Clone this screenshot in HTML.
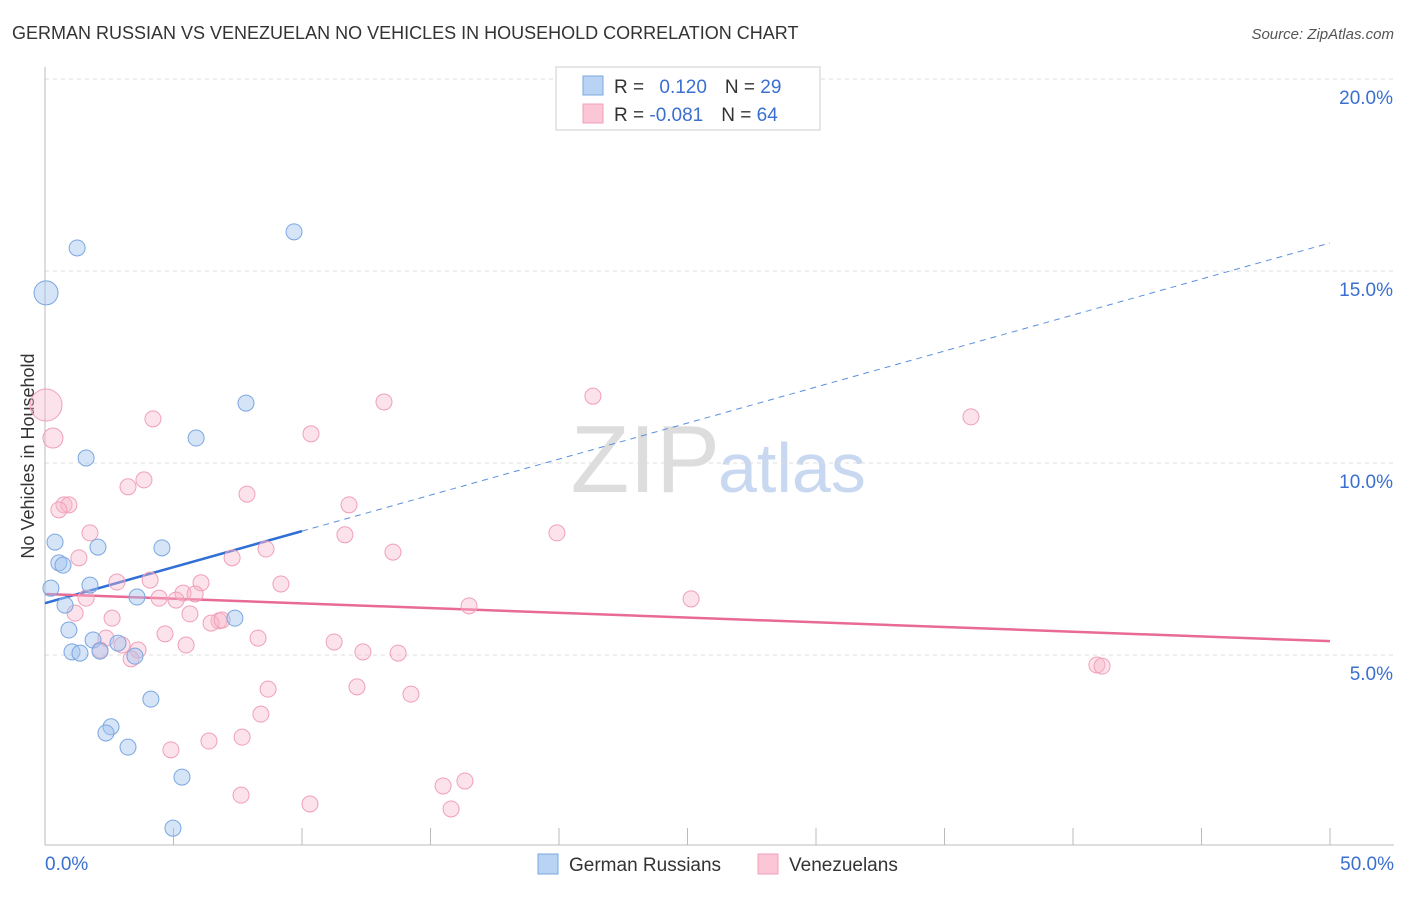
<!DOCTYPE html>
<html><head><meta charset="utf-8"><style>
body{margin:0;background:#fff;font-family:"Liberation Sans",sans-serif;}
svg text{font-family:"Liberation Sans",sans-serif;}
</style></head><body>
<svg id="chart" width="1406" height="892">
<text x="12" y="39" font-size="18" fill="#333">GERMAN RUSSIAN VS VENEZUELAN NO VEHICLES IN HOUSEHOLD CORRELATION CHART</text>
<text x="1394" y="39" font-size="15" fill="#555" text-anchor="end" font-style="italic">Source: ZipAtlas.com</text>
<text x="0" y="0" transform="translate(34,456) rotate(-90)" font-size="18" fill="#333" text-anchor="middle">No Vehicles in Household</text>
<text x="720" y="492" font-size="96" fill="#ddd" text-anchor="end" font-family="Liberation Serif">ZIP</text>
<text x="718" y="492" font-size="70" fill="#c8d8f0">atlas</text>
<g id="grid"></g><g id="axes"></g><g id="lines"></g><g id="pts"></g>
<g>
<rect x="556" y="67" width="264" height="63" fill="#fff" stroke="#ccc"/>
<rect x="583" y="76" width="20" height="19" fill="#b9d3f5" stroke="#7aa7e0"/>
<rect x="583" y="104" width="20" height="19" fill="#fbc6d6" stroke="#f0a0b8"/>
<text x="614" y="93" font-size="19" fill="#333">R = <tspan fill="#3a6fd0" dx="10">0.120</tspan><tspan fill="#333" dx="18">N = </tspan><tspan fill="#3a6fd0">29</tspan></text>
<text x="614" y="121" font-size="19" fill="#333">R = <tspan fill="#3a6fd0">-0.081</tspan><tspan fill="#333" dx="18">N = </tspan><tspan fill="#3a6fd0">64</tspan></text>
</g>
<g>
<rect x="538" y="854" width="20" height="20" fill="#b9d3f5" stroke="#7aa7e0"/>
<text x="569" y="871" font-size="19" fill="#333">German Russians</text>
<rect x="758" y="854" width="20" height="20" fill="#fbc6d6" stroke="#f0a0b8"/>
<text x="789" y="871" font-size="19" fill="#333">Venezuelans</text>
</g>
</svg>
<script>
const yTicks=[5,10,15,20];
const yTickLabels=["5.0%","10.0%","15.0%","20.0%"];
const xTickLabels=["0.0%","50.0%"];
const blueX=[0.04,1.25,9.69,7.82,5.88,1.6,0.39,2.06,4.55,0.54,0.70,0.23,1.75,3.58,0.78,7.39,0.93,1.87,2.84,1.05,1.36,2.14,3.50,4.12,2.57,2.37,3.23,5.33,4.98];
const blueY=[14.43,15.6,16.02,11.56,10.65,10.13,7.94,7.81,7.79,7.40,7.34,6.74,6.82,6.51,6.30,5.96,5.65,5.39,5.31,5.08,5.05,5.10,4.97,3.85,3.13,2.97,2.60,1.82,0.49];
const blueR=[12,8,8,8,8,8,8,8,8,8,8,8,8,8,8,8,8,8,8,8,8,8,8,8,8,8,8,8,8];
const pinkX=[0.04,0.31,4.20,13.19,21.32,36.03,10.35,3.85,3.23,7.86,0.74,0.93,0.54,11.83,1.75,11.67,19.92,8.60,13.54,7.28,1.32,4.09,2.80,6.07,9.18,5.37,5.84,1.60,4.44,5.10,16.50,25.14,1.17,5.64,2.61,6.77,6.46,6.89,4.67,8.29,2.37,5.49,11.25,3.00,3.62,2.14,12.37,13.74,3.35,40.93,41.13,8.68,12.14,14.24,8.40,7.67,4.90,6.38,16.34,15.49,7.63,10.31,15.80];
const pinkY=[11.51,10.65,11.15,11.59,11.74,11.20,10.76,9.56,9.38,9.19,8.91,8.91,8.78,8.91,8.18,8.13,8.18,7.76,7.68,7.53,7.53,6.95,6.90,6.88,6.85,6.61,6.59,6.48,6.48,6.43,6.28,6.46,6.09,6.07,5.96,5.89,5.83,5.91,5.55,5.44,5.44,5.26,5.34,5.26,5.13,5.13,5.08,5.05,4.90,4.74,4.71,4.11,4.17,3.98,3.46,2.86,2.53,2.76,1.72,1.59,1.35,1.12,0.99];
const blueTrend=[6.35,15.73];
const pinkTrend=[6.59,5.36];
const xs=v=>45+v*25.7, ys=v=>847-v*38.4;
const NS="http://www.w3.org/2000/svg";
function mk(tag,attrs,parent){const e=document.createElementNS(NS,tag);for(const k in attrs)e.setAttribute(k,attrs[k]);document.getElementById(parent).appendChild(e);return e;}
yTicks.forEach((t,i)=>{
 const g=mk('line',{x1:45,x2:1394,y1:ys(t),y2:ys(t),stroke:'#ddd','stroke-dasharray':'4,4'},'grid');
 
 
 const l=mk('text',{x:1393,y:ys(t)+25,'font-size':19,fill:'#3a6fd0','text-anchor':'end'},'axes');
 l.textContent=yTickLabels[i];
 
 
});
const ya=mk('line',{x1:45,x2:45,y1:67,y2:845,stroke:'#bbb'},'axes');


const xa=mk('line',{x1:45,x2:1394,y1:845,y2:845,stroke:'#bbb'},'axes');


for(let v=0;v<=50;v+=5){const t=mk('line',{x1:xs(v),x2:xs(v),y1:828,y2:845,stroke:'#bbb'},'axes');
 
 }
[[0,'start',45],[50,'end',1394]].forEach((d,i)=>{const t=mk('text',{x:d[2],y:870,'font-size':19,fill:'#3a6fd0','text-anchor':d[1]},'axes');t.textContent=xTickLabels[i];
 
 });
const bl1=mk('line',{x1:xs(0),y1:ys(blueTrend[0]),x2:xs(10),y2:ys(blueTrend[0]+(blueTrend[1]-blueTrend[0])/5),stroke:'#2f6fd6','stroke-width':2.5},'lines');


const bl2=mk('line',{x1:xs(10),y1:ys(blueTrend[0]+(blueTrend[1]-blueTrend[0])/5),x2:xs(50),y2:ys(blueTrend[1]),stroke:'#5b8fe0','stroke-width':1,'stroke-dasharray':'6,5'},'lines');


const pl=mk('line',{x1:xs(0),y1:ys(pinkTrend[0]),x2:xs(50),y2:ys(pinkTrend[1]),stroke:'#e96a94','stroke-width':2.5},'lines');


pinkX.forEach((x,i)=>{const c=mk('circle',{cx:xs(x),cy:ys(pinkY[i]),r:i==0?16:(i==1?10:8),fill:'rgba(248,182,202,0.4)',stroke:'#f0a0b8','stroke-width':1},'pts');
 
 });
blueX.forEach((x,i)=>{const c=mk('circle',{cx:xs(x),cy:ys(blueY[i]),r:blueR[i],fill:'rgba(164,196,240,0.45)',stroke:'#7aa7e0','stroke-width':1},'pts');
 
 });
</script>
</body></html>
